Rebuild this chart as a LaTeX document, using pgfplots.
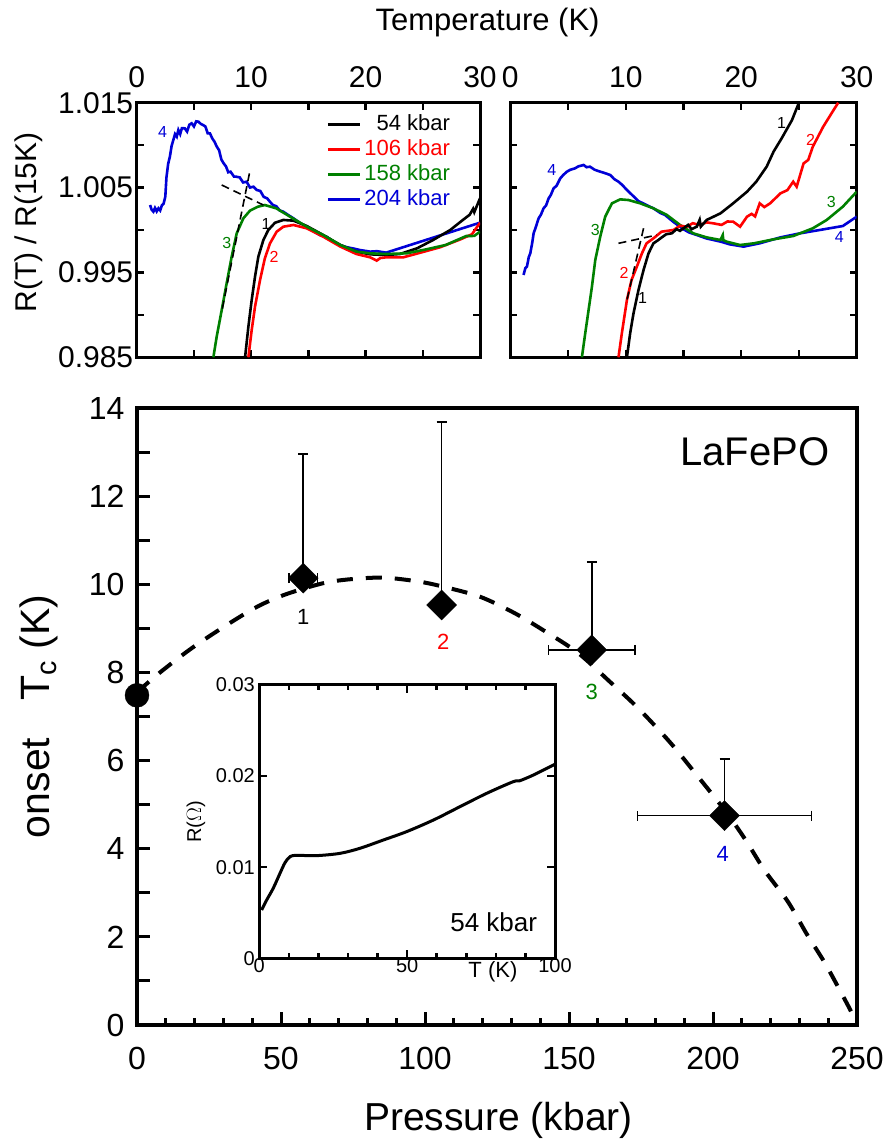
\documentclass[border=0pt]{standalone}
\usepackage{pgfplots}
\pgfplotsset{compat=1.18}
\usepackage{fontspec}
\setmainfont{Liberation Sans}
\definecolor{cgreen}{RGB}{0,128,0}
\definecolor{cblue}{RGB}{0,0,215}
\definecolor{cred}{RGB}{255,0,0}
\newcommand{\fs}[1]{\fontsize{#1}{#1}\selectfont}
\pgfplotsset{
 toppanel/.style={
  anchor=south west, scale only axis, height=254.6pt,
  xmin=0,xmax=30,ymin=0.985,ymax=1.015,
  axis line style={line width=3pt}, tick style={line width=2.5pt,black},
  tick align=inside, xtick pos=both, ytick pos=both, xticklabel pos=upper, yticklabel pos=left,
  xtick={0,10,20,30}, xticklabels={0,10,20,30}, minor xtick={5,15,25},
  ytick={0.985,0.995,1.005,1.015}, minor ytick={0.99,1.0,1.01},
  major tick length=7pt, minor tick length=7pt,
  xticklabel style={font=\fs{30}, yshift=11pt},
  yticklabel style={font=\fs{30}},
  scaled y ticks=false,
  every axis plot/.append style={line width=2.6pt},
 },
}
\begin{document}
\begin{tikzpicture}
\path[use as bounding box] (0pt,0pt) rectangle (890pt,1141pt);
% ---------------- main axis ----------------
\begin{axis}[
 at={(137pt,116pt)}, anchor=south west, scale only axis,
 width=720pt, height=617pt,
 xmin=0, xmax=250, ymin=0, ymax=14,
 clip=false,
 axis line style={line width=4pt},
 tick style={line width=3pt, black},
 tick align=inside, tick pos=left,
 xtick={0,50,100,150,200,250}, xticklabels={0,50,100,150,200,250},
 minor xtick={10,20,30,40,60,70,80,90,110,120,130,140,160,170,180,190,210,220,230,240},
 ytick={0,1,...,14}, yticklabels={0,,2,,4,,6,,8,,10,,12,,14},
 major tick length=13pt, minor tick length=7pt,
 xticklabel style={font=\fs{32}, yshift=-19pt},
 yticklabel style={font=\fs{32}, xshift=-9pt},
 xlabel={Pressure (kbar)},
 xlabel style={at={(axis description cs:0.502,-0.171)}, anchor=base, font=\fs{39}},
 ylabel={onset\hspace{0.9em}T\textsubscript{c} (K)},
 ylabel style={at={(axis description cs:-0.121,0.5)}, anchor=base, font=\fs{41}},
]
\addplot[black, line width=4pt, dash pattern=on 16pt off 13pt, smooth] coordinates {
(0,7.55) (8,8.0) (19,8.55) (31,9.07) (42,9.5) (52,9.78) (65,10.03) (75,10.12) (86,10.15)
(98,10.06) (106,9.95) (119,9.72) (131,9.35) (142,8.92) (153,8.45) (164,7.8) (174,7.19)
(185,6.42) (194,5.7) (204,4.88) (211,4.23) (218,3.5) (226,2.8) (232.5,2.07) (239,1.39) (246,0.55) (248,0.3)};
\addplot[only marks, mark=square*, mark size=10.6pt, mark options={rotate=45, fill=black, draw=black},
 error bars/.cd, y dir=plus, y explicit, x dir=both, x explicit,
 error bar style={line width=1.5pt, black},
 error mark=-,
 error mark options={rotate=90, mark size=5pt, line width=1.5pt, black}]
 coordinates {(57.7,10.14) +- (5,2.82) (157.9,8.51) +- (15,2.0) (204,4.75) +- (30.2,1.28)};
\addplot[only marks, mark=square*, mark size=10.6pt, mark options={rotate=45, fill=black, draw=black},
 error bars/.cd, y dir=plus, y explicit,
 error bar style={line width=1.5pt, black},
 error mark=-,
 error mark options={rotate=90, mark size=5pt, line width=1.5pt, black}]
 coordinates {(105.8,9.53) +- (0,4.15)};
\addplot[only marks, mark=*, mark size=12pt, black] coordinates {(0,7.48)};
\node[font=\fs{22}, text=black] at (axis cs:57.7,9.26) {1};
\node[font=\fs{22}, text=cred] at (axis cs:106.3,8.7) {2};
\node[font=\fs{22}, text=cgreen] at (axis cs:157.9,7.56) {3};
\node[font=\fs{22}, text=cblue] at (axis cs:203.4,3.89) {4};
\node[font=\fs{40}, anchor=base east] at (axis cs:241.6,12.69) {LaFePO};
\end{axis}
% ---------------- inset ----------------
\begin{axis}[
 at={(259.3pt,182.7pt)}, anchor=south west, scale only axis,
 width=295.7pt, height=273.3pt,
 xmin=0,xmax=100,ymin=0,ymax=0.03,
 axis background/.style={fill=white},
 axis line style={line width=3pt}, tick style={line width=2.5pt,black},
 tick align=inside, xtick pos=both, ytick pos=both, xticklabel pos=lower, yticklabel pos=left,
 xtick={0,50,100}, xticklabels={0,50,100}, minor xtick={10,20,30,40,60,70,80,90},
 ytick={0,0.01,0.02,0.03}, yticklabels={0,0.01,0.02,0.03},
 scaled y ticks=false,
 major tick length=8pt, minor tick length=5pt,
 xticklabel style={font=\fs{20}, yshift=3pt},
 yticklabel style={font=\fs{20}, xshift=-1pt},
 xlabel={T (K)},
 xlabel style={at={(axis description cs:0.79,-0.048)}, anchor=center, font=\fs{22}},
 ylabel={R($\Omega$)},
 ylabel style={at={(axis description cs:-0.214,0.5)}, anchor=center, font=\fs{20}},
]
\addplot[black, line width=3pt, smooth] coordinates {
(0.8,0.0053) (2.5,0.0064) (4.7,0.00768) (7,0.00933) (8.7,0.0105) (10.4,0.01116) (12.6,0.0113)
(19.4,0.01127) (27.3,0.01152) (34,0.01207) (42,0.01299) (49.8,0.0139) (58.9,0.01518)
(67.9,0.01665) (76.9,0.01811) (85.9,0.01939) (88,0.01948) (92.7,0.02012) (100,0.0213)};
\node[font=\fs{26}, anchor=base west] at (axis cs:63.4,0.00292) {54 kbar};
\end{axis}
% ---------------- top left ----------------
\begin{axis}[toppanel,
 at={(136.7pt,783.7pt)}, width=343.3pt,
 yticklabels={0.985,0.995,1.005,1.015},
 xlabel={Temperature (K)},
 xlabel style={at={(axis description cs:1.022,1.283)}, anchor=base, font=\fs{31}},
 ylabel={R(T) / R(15K)},
 ylabel style={at={(axis description cs:-0.293,0.53)}, anchor=base, font=\fs{30}},
 legend style={at={(axis description cs:0.9126,0.955)}, anchor=north east, draw=none, fill=none,
   inner sep=0pt, outer sep=0pt, row sep=5pt, column sep=3pt, font=\fs{22},
   nodes={inner sep=0pt, text height=16pt, text depth=4pt}},
 legend cell align=right,
 legend image code/.code={\draw[#1, line width=3pt] (0pt,0pt) -- (32pt,0pt);},
]
\addlegendimage{black}
\addlegendentry{\textcolor{black}{54 kbar}}
\addlegendimage{cred}
\addlegendentry{\textcolor{cred}{106 kbar}}
\addlegendimage{cgreen}
\addlegendentry{\textcolor{cgreen}{158 kbar}}
\addlegendimage{cblue}
\addlegendentry{\textcolor{cblue}{204 kbar}}
% blue 204
\addplot[cblue, forget plot] coordinates {
(1.17,1.00294) (1.3,1.0024) (1.46,1.00216) (1.6,1.0026) (1.75,1.0022) (1.9,1.00255) (2.05,1.0023)
(2.2,1.0029) (2.35,1.0031) (2.5,1.00393) (2.6,1.0062) (2.75,1.0078) (2.9,1.00864) (3.05,1.0099)
(3.2,1.0106) (3.35,1.0113) (3.5,1.0110) (3.64,1.01178) (3.8,1.0113) (3.95,1.0120) (4.2,1.01198)
(4.4,1.0116) (4.6,1.0124) (4.8,1.01257) (5.0,1.0122) (5.2,1.0128) (5.4,1.01276) (5.6,1.0125)
(5.8,1.01237) (6.0,1.0122) (6.2,1.0114) (6.4,1.01139) (6.6,1.0108) (6.8,1.0104) (7.0,1.00982)
(7.2,1.0094) (7.4,1.0083) (7.6,1.00785) (7.8,1.0075) (8.0,1.0068) (8.2,1.00687) (8.5,1.0063)
(8.7,1.00628) (9.0,1.0062) (9.3,1.0056) (9.6,1.00569) (9.9,1.0050) (10.2,1.0051) (10.5,1.00471)
(10.8,1.0046) (11.1,1.0039) (11.4,1.00373) (11.6,1.0034) (11.9,1.00294) (12.2,1.0028) (12.5,1.0023)
(12.8,1.00216) (13.2,1.0018) (13.7,1.00137) (14.3,1.0008) (14.9,1.00039) (15.5,0.9998) (16.0,0.99941)
(16.6,0.9992) (17.2,0.99862) (17.8,0.9982) (18.4,0.99796) (19.0,0.9978) (19.5,0.99764) (20.4,0.99745)
(21.0,0.9975) (21.8,0.99733) (30,1.00086)};
% black 54
\addplot[black, forget plot] coordinates {
(9.47,0.985) (9.76,0.98861) (10.05,0.99175) (10.34,0.9945) (10.63,0.99686) (11.07,0.99882) (11.5,1.0)
(12.09,1.00086) (12.82,1.00118) (13.7,1.0011) (14.86,1.00047) (16.3,0.99941) (17.8,0.99823)
(19.2,0.99745) (20.4,0.99713) (21.8,0.99705) (23.0,0.99717) (24.5,0.99784) (25.9,0.99882)
(27.4,1.0) (28.5,1.00118) (29.1,1.0018) (29.4,1.0025) (29.5,1.0021) (30,1.00373)};
% red 106
\addplot[cred, forget plot] coordinates {
(9.76,0.985) (10.05,0.98822) (10.34,0.99097) (10.78,0.99411) (11.2,0.99666) (11.65,0.99843)
(12.23,0.9998) (12.82,1.00039) (13.7,1.00059) (14.86,1.0002) (16.3,0.99921) (17.8,0.99804)
(19.2,0.99717) (20.4,0.99678) (20.97,0.99639) (21.3,0.9967) (21.8,0.99678) (23.3,0.99678)
(24.8,0.99733) (26.5,0.99796) (28.3,0.9989) (29.3,0.9995) (30,1.00086)};
% green 158
\addplot[cgreen, forget plot] coordinates {
(6.7,0.985) (6.99,0.98743) (7.43,0.99057) (7.86,0.99371) (8.3,0.99686) (8.74,0.99961) (9.32,1.00137)
(9.9,1.00228) (10.6,1.00275) (11.2,1.00294) (12.2,1.00255) (13.4,1.00157) (14.86,1.00039)
(16.3,0.99941) (17.8,0.99823) (19.2,0.99745) (20.4,0.99725) (21.8,0.99717) (23.6,0.99725)
(25.3,0.99772) (27.0,0.99823) (28.8,0.99929) (29.5,0.9993) (30,0.9998)};
% tangent lines
\addplot[black, line width=1.6pt, dash pattern=on 8pt off 5pt, forget plot] coordinates {(7.43,1.0053) (11.07,1.00294)};
\addplot[black, line width=1.6pt, dash pattern=on 8pt off 5pt, forget plot] coordinates {(9.85,1.00667) (7.45,0.9905)};
\node[font=\fs{16}, text=cblue] at (axis cs:2.27,1.0116) {4};
\node[font=\fs{16}, text=black] at (axis cs:11.3,1.00072) {1};
\node[font=\fs{16}, text=cred] at (axis cs:12.0,0.99678) {2};
\node[font=\fs{16}, text=cgreen] at (axis cs:7.87,0.9985) {3};
\end{axis}
% ---------------- top right ----------------
\begin{axis}[toppanel,
 at={(510.3pt,783.7pt)}, width=346.4pt,
 yticklabels={},
]
% blue
\addplot[cblue] coordinates {
(1.15,0.9947) (1.3,0.9955) (1.44,0.99568) (1.6,0.9968) (1.73,0.99725) (1.9,0.9985) (2.02,0.99961)
(2.2,1.0003) (2.45,1.00137) (2.65,1.0018) (2.88,1.00255) (3.1,1.0029) (3.32,1.00373) (3.5,1.0041)
(3.75,1.00491) (4.0,1.0052) (4.33,1.00609) (4.6,1.0065) (4.9,1.00687) (5.2,1.0071) (5.6,1.00726)
(5.9,1.0075) (6.35,1.00766) (6.6,1.0074) (6.9,1.00746) (7.3,1.0071) (7.8,1.00687) (8.2,1.0067)
(8.65,1.00648) (9.0,1.0060) (9.37,1.00569) (9.7,1.0053) (10.1,1.00471) (10.7,1.00393) (11.1,1.0034)
(11.5,1.00314) (12.0,1.0028) (12.4,1.00255) (13.0,1.0020) (13.4,1.00177) (14.1,1.00098)
(15.0,1.00008) (15.5,0.9997) (16.15,0.99941) (17.0,0.9990) (17.6,0.99882) (18.3,0.9986) (19.0,0.99831)
(20.2,0.99804) (21.6,0.99843) (23.4,0.99913) (25.1,0.99961) (26.8,1.0) (28.8,1.00047) (30,1.00157)};
% green
\addplot[cgreen] coordinates {
(6.2,0.985) (6.49,0.98783) (6.78,0.99057) (7.07,0.99332) (7.36,0.99647) (7.79,0.99922) (8.22,1.00157)
(8.8,1.00314) (9.52,1.00361) (10.24,1.00353) (11.25,1.00314) (12.4,1.00255) (13.56,1.00177)
(14.7,1.00059) (15.86,0.9996) (17.0,0.99913) (18.2,0.99882) (18.4,0.9994) (18.45,0.9988) (18.75,0.99862)
(19.9,0.99823) (21.1,0.99843) (22.8,0.9989) (24.5,0.99929) (26.2,1.0002) (27.4,1.00118)
(28.8,1.00275) (30,1.00451)};
% red
\addplot[cred] coordinates {
(9.37,0.985) (9.66,0.98783) (10.1,0.99175) (10.5,0.99411) (10.96,0.99568) (11.4,0.99725) (11.8,0.99843)
(12.4,0.99902) (13.1,0.9998) (13.6,0.9999) (14.13,1.0) (14.7,1.0005) (15.3,1.00039) (15.8,1.0008)
(16.4,1.00059) (17.0,1.0009) (17.6,1.00078) (18.3,1.0006) (18.8,1.0010) (19.3,1.00098) (19.9,1.00039)
(20.5,1.00157) (20.9,1.0019) (21.2,1.0016) (21.6,1.00314) (22.0,1.0027) (22.5,1.00314) (23.4,1.00432)
(24.0,1.0047) (24.5,1.00569) (24.8,1.0051) (25.4,1.00785) (25.8,1.00825) (26.2,1.00982) (27.1,1.01217)
(28.0,1.01414) (28.4,1.015)};
% black
\addplot[black] coordinates {
(10.1,0.985) (10.38,0.98783) (10.67,0.99018) (11.1,0.99293) (11.54,0.99529) (11.97,0.99725)
(12.4,0.99843) (12.8,0.9988) (13.12,0.99913) (13.5,0.9995) (13.99,0.99961) (14.4,1.0001) (14.7,0.9999)
(15.0,1.0002) (15.4,1.0006) (15.7,1.0001) (16.15,1.00039) (16.4,1.0012) (16.5,1.0004) (17.0,1.00118)
(18.2,1.00196) (19.3,1.00314) (20.5,1.00451) (21.3,1.00569) (22.2,1.00746) (22.8,1.00923)
(23.5,1.0108) (24.4,1.01296) (25.0,1.015)};
\addplot[black, line width=1.6pt, dash pattern=on 8pt off 5pt] coordinates {(9.37,0.99843) (12.7,0.99941)};
\addplot[black, line width=1.6pt, dash pattern=on 8pt off 5pt] coordinates {(11.54,1.0002) (10.1,0.99175)};
\node[font=\fs{16}, text=cblue] at (axis cs:3.6,1.00707) {4};
\node[font=\fs{16}, text=cgreen] at (axis cs:7.36,1.0) {3};
\node[font=\fs{16}, text=cred] at (axis cs:9.86,0.99489) {2};
\node[font=\fs{16}, text=black] at (axis cs:11.45,0.99195) {1};
\node[font=\fs{16}, text=black] at (axis cs:23.5,1.01257) {1};
\node[font=\fs{16}, text=cred] at (axis cs:26.0,1.0106) {2};
\node[font=\fs{16}, text=cgreen] at (axis cs:27.8,1.00334) {3};
\node[font=\fs{16}, text=cblue] at (axis cs:28.5,0.99913) {4};
\end{axis}
\end{tikzpicture}
\end{document}
